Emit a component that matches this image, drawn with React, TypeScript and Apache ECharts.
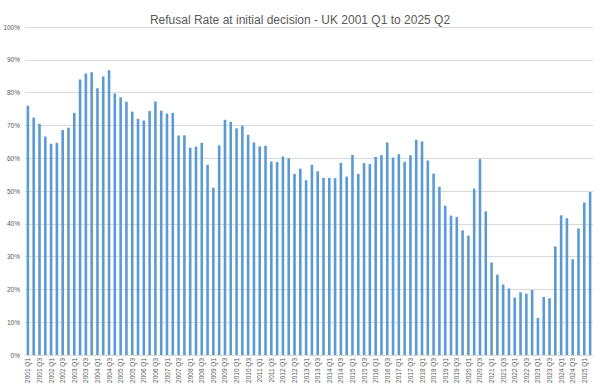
import React, { useEffect, useRef } from "react";
import * as echarts from "echarts";

const years: number[] = [];
for (let y = 2001; y <= 2025; y++) years.push(y);

const categories: string[] = [];
years.forEach((y) => {
  ["Q1", "Q2", "Q3", "Q4"].forEach((q) => {
    if (y === 2025 && (q === "Q3" || q === "Q4")) return;
    categories.push(`${y} ${q}`);
  });
});

const refusalRate: number[] = [
  // 2001
  76.0, 72.4, 70.5, 66.6,
  // 2002
  64.4, 64.7, 68.6, 69.3,
  // 2003
  73.8, 84.0, 85.8, 86.2,
  // 2004
  81.3, 84.9, 86.8, 79.7,
  // 2005
  78.6, 77.2, 74.2, 72.0,
  // 2006
  71.5, 74.4, 77.3, 74.5,
  // 2007
  73.6, 73.8, 66.9, 67.0,
  // 2008
  63.2, 63.5, 64.7, 58.0,
  // 2009
  51.0, 63.9, 71.7, 71.1,
  // 2010
  69.1, 69.9, 67.1, 64.8,
  // 2011
  63.6, 63.8, 59.0, 58.8,
  // 2012
  60.5, 60.0, 55.2, 56.8,
  // 2013
  53.3, 58.0, 56.0, 54.0,
  // 2014
  54.0, 53.9, 58.6, 54.4,
  // 2015
  61.0, 55.2, 58.5, 58.2,
  // 2016
  60.4, 60.9, 64.8, 60.2,
  // 2017
  61.2, 58.9, 60.9, 65.6,
  // 2018
  65.1, 59.3, 55.3, 51.3,
  // 2019
  45.5, 42.5, 42.1, 38.0,
  // 2020
  36.4, 50.7, 59.7, 43.8,
  // 2021
  28.2, 24.5, 21.5, 20.3,
  // 2022
  17.5, 19.1, 18.7, 19.8,
  // 2023
  11.3, 17.7, 17.3, 33.1,
  // 2024
  42.6, 41.7, 29.2, 38.6,
  // 2025
  46.5, 49.7,
];

const yTicks: number[] = [0, 10, 20, 30, 40, 50, 60, 70, 80, 90, 100];

const titleText = "Refusal Rate at initial decision - UK 2001 Q1 to 2025 Q2";

export default function App() {
  const ref = useRef<HTMLDivElement>(null);
  useEffect(() => {
    if (!ref.current) return;
    const chart = echarts.init(ref.current, undefined, { renderer: "svg" });
    const font = "'Liberation Sans', Arial, sans-serif";
    chart.setOption({
      animation: false,
      backgroundColor: "#ffffff",
      textStyle: { fontFamily: font },
      title: {
        text: titleText,
        left: "center",
        top: 9,
        textStyle: { fontSize: 12, fontWeight: "normal", color: "#595959", fontFamily: font },
      },
      grid: { left: 25, right: 7, top: 27, bottom: 34, containLabel: false },
      xAxis: {
        type: "category",
        data: categories,
        axisLine: { show: true, lineStyle: { color: "#d9d9d9", width: 1 } },
        axisTick: { show: false },
        axisLabel: {
          interval: 1,
          rotate: 90,
          fontSize: 6.5,
          color: "#595959",
          margin: 3,
          fontFamily: font,
        },
      },
      yAxis: {
        type: "value",
        min: yTicks[0],
        max: yTicks[yTicks.length - 1],
        interval: 10,
        axisLine: { show: false },
        axisTick: { show: false },
        splitLine: { lineStyle: { color: "#d9d9d9", width: 1 } },
        axisLabel: {
          formatter: (v: number) => `${v}%`,
          fontSize: 6.5,
          color: "#595959",
          margin: 5,
          fontFamily: font,
        },
      },
      series: [
        {
          type: "bar",
          data: refusalRate,
          barWidth: 2.6,
          itemStyle: { color: "#5b9bd5" },
        },
      ],
    });
    return () => chart.dispose();
  }, []);
  return (
    <div
      ref={ref}
      style={{ position: "fixed", left: 0, top: 0, width: 600, height: 389 }}
    />
  );
}
